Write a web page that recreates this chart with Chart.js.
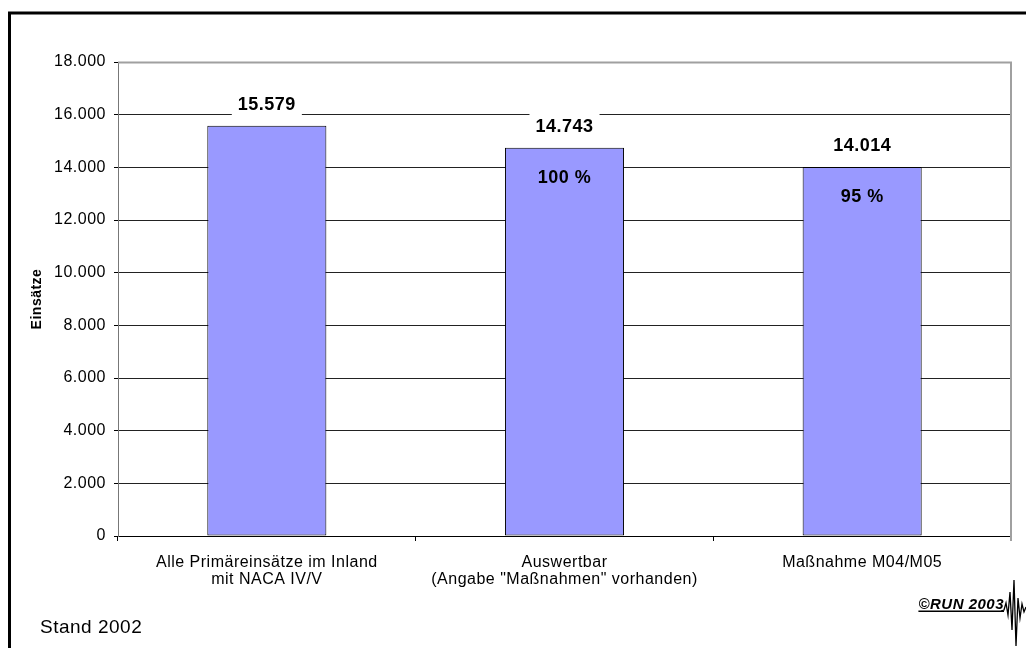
<!DOCTYPE html>
<html lang="de">
<head>
<meta charset="utf-8">
<title>Einsätze – Maßnahmen M04/M05</title>
<script src="https://cdn.jsdelivr.net/npm/chart.js@4/dist/chart.umd.min.js"></script>
<style>
  html, body { margin: 0; padding: 0; background: #fff; }
  #wrap { position: relative; width: 1026px; height: 648px; }
  canvas { display: block; }
</style>
</head>
<body>
<div id="wrap"><canvas id="chart" width="1026" height="648"></canvas></div>
<script>
// Kategorien (mehrzeilige Achsenbeschriftung)
const kategorien = [
  ['Alle Primäreinsätze im Inland', 'mit NACA IV/V'],
  ['Auswertbar', '(Angabe "Maßnahmen" vorhanden)'],
  ['Maßnahme M04/M05']
];
// Anzahl der Einsätze je Kategorie
const einsaetze = [15579, 14743, 14014];
// Anteil bezogen auf die auswertbaren Einsätze (in %)
const anteile = [null, 100, 95];
// Y-Achse
const yMin = 0, yMax = 18000, yStep = 2000;

const FONT = '"Liberation Sans", Arial, Helvetica, sans-serif';

// Zahlen mit Punkt als Tausendertrennzeichen
function fmt(n) {
  return String(Math.round(n)).replace(/\B(?=(\d{3})+(?!\d))/g, '.');
}

// etwas breiter laufende Schrift für alle Texte
function sperren(chart) {
  if ('letterSpacing' in chart.ctx) chart.ctx.letterSpacing = '0.5px';
}

// Rahmen, Plotfläche, Beschriftungen und Logo
const deko = {
  id: 'deko',
  beforeUpdate(chart) { sperren(chart); },
  beforeDraw(chart) {
    sperren(chart);
    const ctx = chart.ctx;
    ctx.save();
    ctx.fillStyle = '#fff';
    ctx.fillRect(0, 0, chart.width, chart.height);
    // äußerer Rahmen
    ctx.strokeStyle = '#000';
    ctx.lineWidth = 3;
    ctx.strokeRect(9.5, 13, 1040, 660);
    ctx.restore();
  },
  beforeDatasetsDraw(chart) {
    const ctx = chart.ctx;
    const a = chart.chartArea;
    ctx.save();
    // Rand der Plotfläche (oben und rechts)
    ctx.strokeStyle = '#a0a0a0';
    ctx.lineWidth = 2;
    ctx.beginPath();
    ctx.moveTo(Math.round(a.left), Math.round(a.top) + 0.5);
    ctx.lineTo(Math.round(a.right), Math.round(a.top) + 0.5);
    ctx.lineTo(Math.round(a.right), Math.round(a.bottom) + 5);
    ctx.stroke();
    ctx.restore();
  },
  afterDatasetsDraw(chart) {
    const ctx = chart.ctx;
    const meta = chart.getDatasetMeta(0);
    ctx.save();
    ctx.textAlign = 'center';
    ctx.textBaseline = 'middle';
    ctx.font = 'bold 18px ' + FONT;
    meta.data.forEach((bar, i) => {
      const txt = fmt(einsaetze[i]);
      const y = bar.y - 21;
      const w = ctx.measureText(txt).width + 12;
      ctx.fillStyle = '#fff';
      ctx.fillRect(bar.x - w / 2, y - 13, w, 26);
      ctx.fillStyle = '#000';
      ctx.fillText(txt, bar.x, y);
      if (anteile[i] != null) {
        ctx.fillText(anteile[i] + ' %', bar.x, bar.y + 30);
      }
    });
    ctx.restore();
  },
  afterDraw(chart) {
    const ctx = chart.ctx;
    ctx.save();
    // Stand
    ctx.fillStyle = '#000';
    ctx.font = '19px ' + FONT;
    ctx.textAlign = 'left';
    ctx.textBaseline = 'middle';
    ctx.fillText('Stand 2002', 40, 628);
    // Logo
    ctx.font = 'italic bold 15px ' + FONT;
    ctx.textAlign = 'right';
    ctx.textBaseline = 'alphabetic';
    ctx.fillText('©RUN 2003', 1004, 609);
    const lw = ctx.measureText('©RUN 2003').width;
    ctx.fillRect(1004 - lw, 610.5, lw, 1.5);
    // Seismogramm-Zacken
    ctx.strokeStyle = '#000';
    ctx.lineWidth = 1.3;
    ctx.beginPath();
    const pts = [
      [1001, 611], [1004, 610], [1006, 603], [1008, 615], [1010, 592],
      [1012, 630], [1014, 580], [1016, 646], [1018, 598], [1020, 618],
      [1022, 604], [1024, 612], [1026, 607]
    ];
    pts.forEach((p, i) => i ? ctx.lineTo(p[0], p[1]) : ctx.moveTo(p[0], p[1]));
    ctx.stroke();
    ctx.restore();
  }
};

new Chart(document.getElementById('chart'), {
  type: 'bar',
  data: {
    labels: kategorien,
    datasets: [{
      data: einsaetze,
      backgroundColor: '#9999ff',
      borderColor: '#000',
      borderWidth: 1,
      borderSkipped: false,
      barPercentage: 0.8,
      categoryPercentage: 0.5
    }]
  },
  options: {
    responsive: false,
    animation: false,
    devicePixelRatio: 1,
    layout: { padding: { left: 0, top: 62, right: 15, bottom: 0 } },
    plugins: {
      legend: { display: false },
      tooltip: { enabled: false }
    },
    scales: {
      x: {
        afterFit(s) { s.height = 112; },
        border: { display: true, color: '#000', width: 1 },
        grid: {
          offset: true,
          drawOnChartArea: false,
          drawTicks: true,
          tickLength: 5,
          tickColor: '#000'
        },
        ticks: {
          color: '#000',
          font: { family: FONT, size: 16, lineHeight: 1.08 },
          padding: 13,
          maxRotation: 0,
          autoSkip: false
        }
      },
      y: {
        min: yMin,
        max: yMax,
        afterFit(s) { s.width = 118; },
        border: { display: true, color: '#777', width: 1 },
        grid: {
          color: (c) => (c.tick && c.tick.value === yMax) ? 'rgba(0,0,0,0)' : '#222',
          lineWidth: 1,
          drawTicks: true,
          tickLength: 4,
          tickColor: '#000'
        },
        ticks: {
          stepSize: yStep,
          color: '#000',
          font: { family: FONT, size: 16 },
          padding: 8,
          callback: (v) => fmt(v)
        },
        title: {
          display: true,
          text: 'Einsätze',
          color: '#000',
          font: { family: FONT, size: 14, weight: 'bold' },
          padding: { top: 29, bottom: 0 }
        }
      }
    }
  },
  plugins: [deko]
});
</script>
</body>
</html>
